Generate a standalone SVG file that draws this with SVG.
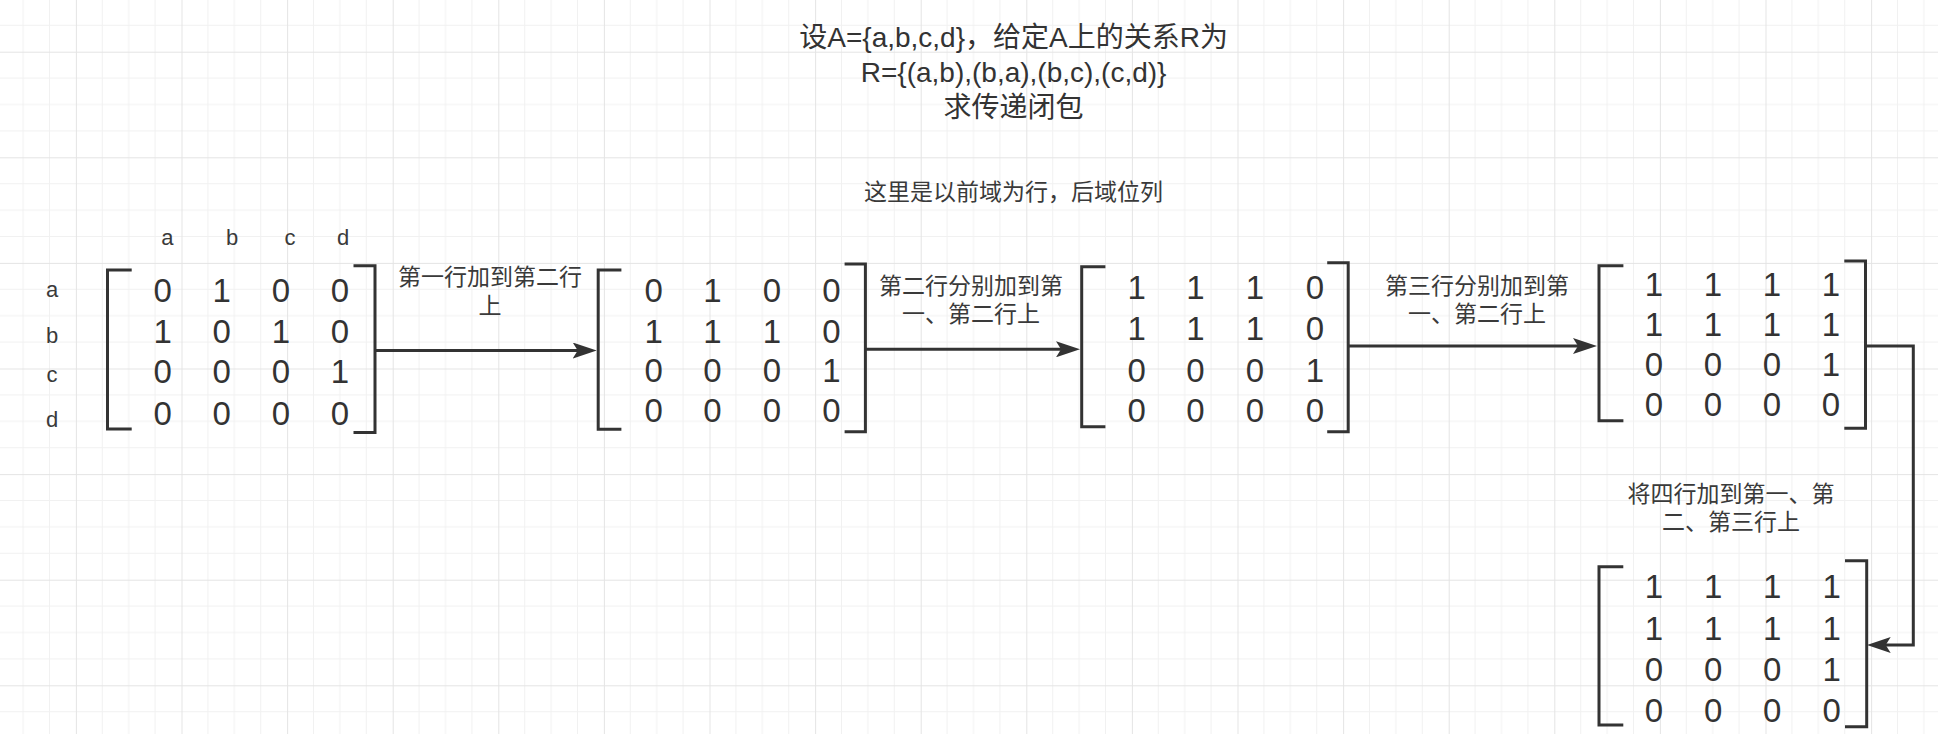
<svg xmlns="http://www.w3.org/2000/svg" width="1938" height="734" viewBox="0 0 1938 734">
<style>
  .br { fill: none; stroke: #333; stroke-width: 3; stroke-linejoin: miter; }
  .cn { fill: none; stroke: #333; stroke-width: 3; }
  .dg { font-family: "Liberation Sans", Arial, sans-serif; font-size: 33px; fill: #333; text-anchor: middle; }
  .lb { font-family: "Liberation Sans", Arial, sans-serif; font-size: 22px; fill: #3a3a3a; text-anchor: middle; }
  .cj { font-family: "Liberation Sans", "Noto Sans CJK SC", sans-serif; font-size: 23px; fill: #3a3a3a; text-anchor: middle; }
  .tt { font-family: "Liberation Sans", "Noto Sans CJK SC", sans-serif; font-size: 28px; fill: #333; text-anchor: middle; }
</style>
<defs>
  <pattern id="grid" patternUnits="userSpaceOnUse" x="75.9" y="51.7" width="105.6" height="105.6">
    <path d="M26.4 0V105.6M52.8 0V105.6M79.2 0V105.6M0 26.4H105.6M0 52.8H105.6M0 79.2H105.6" stroke="#f1f1f1" stroke-width="1" fill="none"/>
    <path d="M0.5 0V105.6M0 0.5H105.6" stroke="#e4e4e4" stroke-width="1" fill="none"/>
  </pattern>
  <marker id="arr" markerUnits="userSpaceOnUse" viewBox="0 0 24 16" markerWidth="24" markerHeight="16" refX="12" refY="8" orient="auto">
    <path d="M24 8L0 0L5 8L0 16Z" fill="#333"/>
  </marker>
</defs>
<rect width="1938" height="734" fill="#fff"/>
<rect width="1938" height="734" fill="url(#grid)"/>

<g id="title">
  <text class="tt" x="1013.6" y="47">设A={a,b,c,d}，给定A上的关系R为</text>
  <text class="tt" x="1013.6" y="82">R={(a,b),(b,a),(b,c),(c,d)}</text>
  <text class="tt" x="1013.6" y="117">求传递闭包</text>
</g>
<g id="subtitle">
  <text class="cj" x="1013.6" y="200">这里是以前域为行，后域位列</text>
</g>
<g id="col-labels">
  <text class="lb" x="167.4" y="245">a</text>
  <text class="lb" x="232" y="245">b</text>
  <text class="lb" x="290" y="245">c</text>
  <text class="lb" x="343" y="245">d</text>
</g>
<g id="row-labels">
  <text class="lb" x="52" y="297">a</text>
  <text class="lb" x="52" y="343">b</text>
  <text class="lb" x="52" y="382">c</text>
  <text class="lb" x="52" y="427">d</text>
</g>

<g id="matrix1">
  <path class="br" d="M131.7 270H107.5V429H131.7"/>
  <path class="br" d="M353.5 265.7H375V432.5H353.5"/>
  <text class="dg" x="162.7" y="301.7">0</text><text class="dg" x="221.7" y="301.7">1</text><text class="dg" x="281" y="301.7">0</text><text class="dg" x="340" y="301.7">0</text>
  <text class="dg" x="162.7" y="343">1</text><text class="dg" x="221.7" y="343">0</text><text class="dg" x="281" y="343">1</text><text class="dg" x="340" y="343">0</text>
  <text class="dg" x="162.7" y="382.5">0</text><text class="dg" x="221.7" y="382.5">0</text><text class="dg" x="281" y="382.5">0</text><text class="dg" x="340" y="382.5">1</text>
  <text class="dg" x="162.7" y="424.5">0</text><text class="dg" x="221.7" y="424.5">0</text><text class="dg" x="281" y="424.5">0</text><text class="dg" x="340" y="424.5">0</text>
</g>

<g id="matrix2">
  <path class="br" d="M621.4 270H598.2V429.3H621.4"/>
  <path class="br" d="M844.6 264H865.4V431.7H844.6"/>
  <text class="dg" x="653.6" y="302">0</text><text class="dg" x="712.5" y="302">1</text><text class="dg" x="772" y="302">0</text><text class="dg" x="831.4" y="302">0</text>
  <text class="dg" x="653.6" y="342.7">1</text><text class="dg" x="712.5" y="342.7">1</text><text class="dg" x="772" y="342.7">1</text><text class="dg" x="831.4" y="342.7">0</text>
  <text class="dg" x="653.6" y="382">0</text><text class="dg" x="712.5" y="382">0</text><text class="dg" x="772" y="382">0</text><text class="dg" x="831.4" y="382">1</text>
  <text class="dg" x="653.6" y="422">0</text><text class="dg" x="712.5" y="422">0</text><text class="dg" x="772" y="422">0</text><text class="dg" x="831.4" y="422">0</text>
</g>

<g id="matrix3">
  <path class="br" d="M1105.4 266.7H1081.7V426.7H1105.4"/>
  <path class="br" d="M1327.2 262.7H1348.2V431.7H1327.2"/>
  <text class="dg" x="1136.6" y="298.7">1</text><text class="dg" x="1195.5" y="298.7">1</text><text class="dg" x="1254.9" y="298.7">1</text><text class="dg" x="1315" y="298.7">0</text>
  <text class="dg" x="1136.6" y="340.3">1</text><text class="dg" x="1195.5" y="340.3">1</text><text class="dg" x="1254.9" y="340.3">1</text><text class="dg" x="1315" y="340.3">0</text>
  <text class="dg" x="1136.6" y="382">0</text><text class="dg" x="1195.5" y="382">0</text><text class="dg" x="1254.9" y="382">0</text><text class="dg" x="1315" y="382">1</text>
  <text class="dg" x="1136.6" y="422">0</text><text class="dg" x="1195.5" y="422">0</text><text class="dg" x="1254.9" y="422">0</text><text class="dg" x="1315" y="422">0</text>
</g>

<g id="matrix4">
  <path class="br" d="M1623.4 265.7H1599V420.7H1623.4"/>
  <path class="br" d="M1844.3 261H1865.5V428.3H1844.3"/>
  <text class="dg" x="1654" y="296">1</text><text class="dg" x="1713" y="296">1</text><text class="dg" x="1772" y="296">1</text><text class="dg" x="1831" y="296">1</text>
  <text class="dg" x="1654" y="336">1</text><text class="dg" x="1713" y="336">1</text><text class="dg" x="1772" y="336">1</text><text class="dg" x="1831" y="336">1</text>
  <text class="dg" x="1654" y="376">0</text><text class="dg" x="1713" y="376">0</text><text class="dg" x="1772" y="376">0</text><text class="dg" x="1831" y="376">1</text>
  <text class="dg" x="1654" y="416">0</text><text class="dg" x="1713" y="416">0</text><text class="dg" x="1772" y="416">0</text><text class="dg" x="1831" y="416">0</text>
</g>

<g id="matrix5">
  <path class="br" d="M1623.3 566.7H1599V725H1623.3"/>
  <path class="br" d="M1845 560.7H1866.7V726.7H1845"/>
  <text class="dg" x="1654" y="598">1</text><text class="dg" x="1713.3" y="598">1</text><text class="dg" x="1772.3" y="598">1</text><text class="dg" x="1831.7" y="598">1</text>
  <text class="dg" x="1654" y="639.5">1</text><text class="dg" x="1713.3" y="639.5">1</text><text class="dg" x="1772.3" y="639.5">1</text><text class="dg" x="1831.7" y="639.5">1</text>
  <text class="dg" x="1654" y="681">0</text><text class="dg" x="1713.3" y="681">0</text><text class="dg" x="1772.3" y="681">0</text><text class="dg" x="1831.7" y="681">1</text>
  <text class="dg" x="1654" y="721.5">0</text><text class="dg" x="1713.3" y="721.5">0</text><text class="dg" x="1772.3" y="721.5">0</text><text class="dg" x="1831.7" y="721.5">0</text>
</g>

<g id="connectors">
  <path class="cn" d="M375 350.5H584.7" marker-end="url(#arr)"/>
  <path class="cn" d="M865.4 349.3H1068" marker-end="url(#arr)"/>
  <path class="cn" d="M1348.2 346H1585" marker-end="url(#arr)"/>
  <path class="cn" d="M1865.5 346H1913.3V645H1878.7" marker-end="url(#arr)"/>
  <g id="edge-labels">
    <text class="cj" x="490" y="284.5">第一行加到第二行</text>
    <text class="cj" x="490" y="313.5">上</text>
    <text class="cj" x="971" y="293.5">第二行分别加到第</text>
    <text class="cj" x="971" y="322">一、第二行上</text>
    <text class="cj" x="1477" y="293.5">第三行分别加到第</text>
    <text class="cj" x="1477" y="321.8">一、第二行上</text>
    <text class="cj" x="1731" y="501.8">将四行加到第一、第</text>
    <text class="cj" x="1731" y="529.5">二、第三行上</text>
  </g>
</g>
</svg>
